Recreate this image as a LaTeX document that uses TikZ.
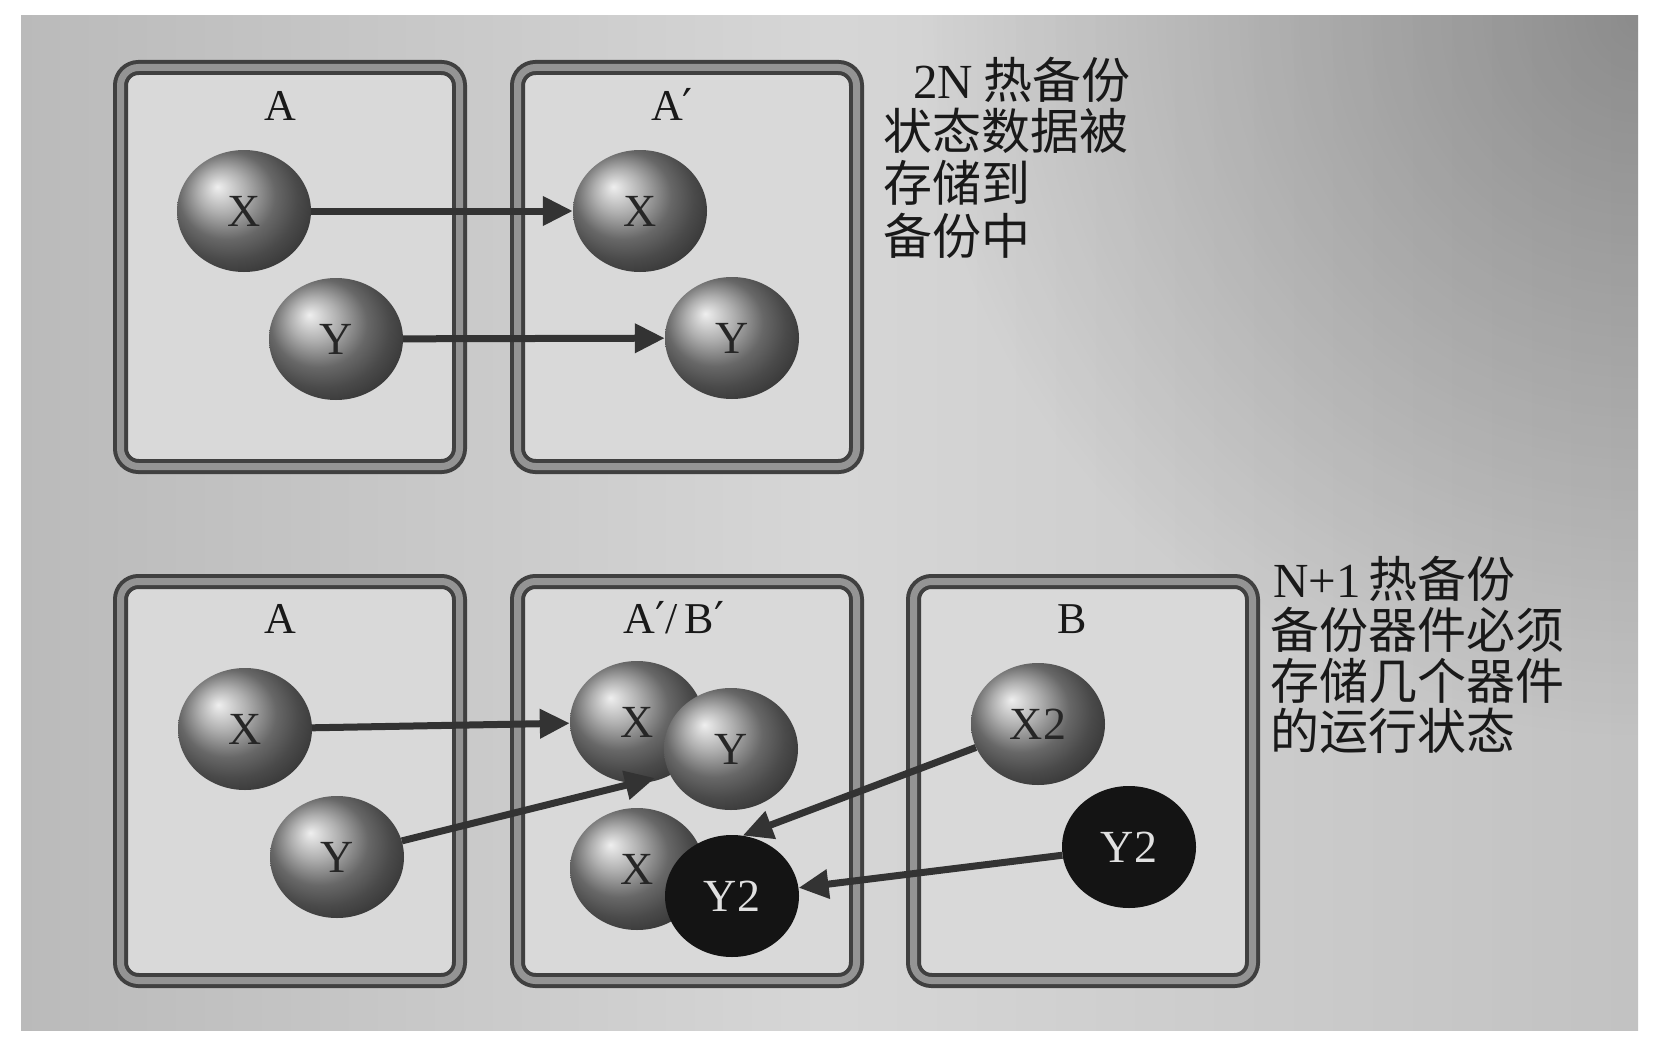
\documentclass[tikz,border=0pt]{standalone}
\usepackage{fontspec}
\setmainfont{Liberation Serif}
\newfontfamily\cjk{Noto Sans CJK SC}
\newfontfamily\dvs{DejaVu Serif}
\newcommand{\prm}{{\dvs ′}}
\usetikzlibrary{arrows.meta,fadings,shapes.geometric}
\pgfdeclarehorizontalshading{bgsh}{100bp}{color(0bp)=(black!27); color(25bp)=(black!27); color(50bp)=(black!16); color(75bp)=(black!24); color(100bp)=(black!24)}
\tikzfading[name=radfade, inner color=transparent!0, outer color=transparent!100]
\begin{document}
\begin{tikzpicture}[x=1pt,y=-1pt,
  frame/.style={draw=black!75, line width=4pt, double=black!42, double distance=7pt,
    fill=black!15, rounded corners=18pt, inner sep=0pt, minimum width=339pt, minimum height=399pt},
  ballst/.style={ellipse, inner sep=0pt, minimum width=134pt, minimum height=122pt,
    ball color=black!42, text=black!85, font=\fontsize{46}{50}\selectfont},
  darkball/.style={ellipse, inner sep=0pt, minimum width=134pt, minimum height=122pt,
    fill=black!92, text=black!12, font=\fontsize{46}{50}\selectfont},
  lbl/.style={anchor=base, inner sep=0pt, font=\fontsize{44}{48}\selectfont, text=black!90},
  txt/.style={anchor=west, inner sep=0pt, font=\fontsize{49}{52}\selectfont\cjk, text=black!90},
  arr/.style={draw=black!80, line width=7pt, -{Triangle[length=30pt,width=28pt]}}]
\useasboundingbox (0,0) rectangle (1660,1049);
\fill[white] (0,0) rectangle (1660,1049);
% background
\shade[shading=bgsh] (21,16) rectangle (1638,1030);
\begin{scope}
  \clip (21,16) rectangle (1638,1030);
  \fill[black, opacity=0.28, path fading=radfade] (1640,16) circle (720);
\end{scope}

% frames
\node[frame] (fA1) at (290,267) {};
\node[frame] (fA2) at (687,267) {};
\node[frame] (fB1) at (290,781) {};
\node[frame] (fB2) at (687,781) {};
\node[frame] (fB3) at (1083,781) {};

% frame labels
\node[lbl] (lA1) at (280,120) {A};
\node[lbl] (lA2) at (672,120) {A\prm};
\node[lbl] (lB1) at (280,633) {A};
\node[lbl] (lB2) at (674,633) {A\prm/\,B\prm};
\node[lbl] (lB3) at (1072,633) {B};

% top balls
\node[ballst] (tXa) at (244,211) {X};
\node[ballst] (tYa) at (336,339) {Y};
\node[ballst] (tXb) at (640,211) {X};
\node[ballst] (tYb) at (732,338) {Y};

% bottom balls
\node[ballst] (bXa) at (245,729) {X};
\node[ballst] (bYa) at (337,857) {Y};
\node[ballst] (bXb) at (637,722) {X};
\node[ballst] (bYb) at (731,749) {Y};
\node[ballst] (bXc) at (637,869) {X};
\node[darkball] (bY2b) at (732,896) {Y2};
\node[ballst] (bX2) at (1038,724) {X2};
\node[darkball] (bY2) at (1129,847) {Y2};

\coordinate (ytip) at (655,778);

% arrows
\draw[arr] (tXa) -- (tXb);
\draw[arr] (tYa) -- (tYb);
\draw[arr] (bXa) -- (bXb);
\draw[arr] (bYa) -- (ytip);
\draw[arr] (bX2) -- (bY2b.80);
\draw[arr] (bY2) -- (bY2b);

% texts
\node[txt] (t1) at (913,80) {{\rmfamily 2N}\hspace{10pt}热备份};
\node[txt] (t2) at (883,131) {状态数据被};
\node[txt] (t3) at (883,183) {存储到};
\node[txt] (t4) at (883,236) {备份中};

\node[txt] (u1) at (1273,579) {{\rmfamily N+1}\hspace{8pt}热备份};
\node[txt] (u2) at (1270,630) {备份器件必须};
\node[txt] (u3) at (1270,681) {存储几个器件};
\node[txt] (u4) at (1270,731) {的运行状态};
\end{tikzpicture}
\end{document}
